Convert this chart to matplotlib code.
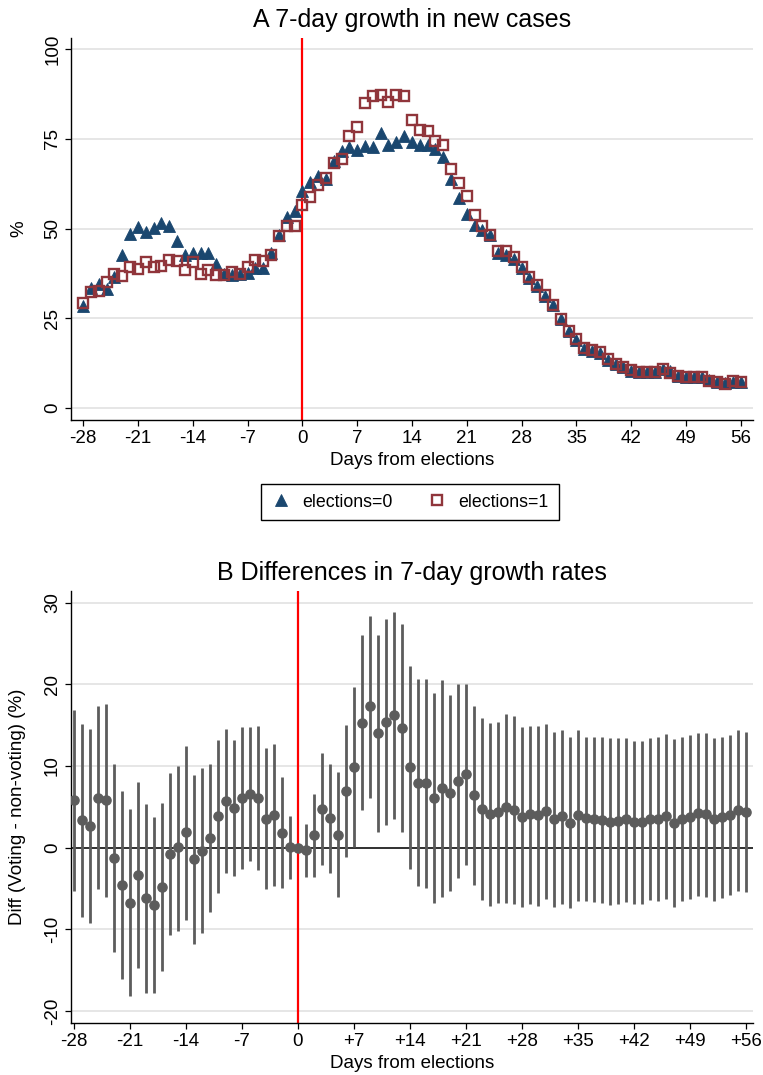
import matplotlib
matplotlib.use("Agg")
import matplotlib.pyplot as plt
from matplotlib import font_manager

# ---------- data ----------

DAYS = list(range(-28, 57))

# A: 7-day growth in new cases (%)
GROWTH_E0 = [
    28.4, 33.6, 34.7, 33.3, 36.6, 42.6, 48.4, 50.4, 49.0, 50.3, 51.5, 50.8,
    46.6, 42.7, 43.2, 43.2, 43.2, 40.1, 37.5, 37.0, 37.3, 37.6, 39.0, 39.0,
    43.2, 48.2, 53.1, 54.9, 60.6, 63.0, 64.6, 63.9, 68.9, 71.7, 72.7, 71.9,
    72.9, 72.8, 76.5, 73.3, 74.1, 75.7, 74.1, 73.4, 73.2, 72.2, 69.9, 63.9,
    58.4, 54.0, 51.0, 49.6, 48.2, 43.3, 42.7, 41.4, 39.0, 36.3, 34.0, 31.2,
    28.6, 24.8, 21.5, 19.1, 16.6, 16.0, 15.4, 13.5, 12.2, 11.5, 10.4, 10.1,
    10.1, 10.1, 10.8, 10.3, 9.0, 8.8, 8.7, 8.6, 7.8, 7.2, 7.0, 7.4, 7.2,
]
GROWTH_E1 = [
    29.4, 32.3, 32.7, 35.0, 37.3, 36.8, 39.2, 38.8, 40.7, 39.3, 39.6, 41.2,
    41.0, 38.5, 40.6, 37.3, 38.5, 37.1, 37.1, 38.0, 37.3, 39.2, 41.2, 40.9,
    42.7, 48.0, 50.8, 50.8, 56.7, 58.8, 62.2, 64.2, 68.3, 69.4, 75.7, 78.2,
    84.9, 86.8, 87.2, 85.3, 87.2, 86.9, 80.3, 77.6, 77.1, 74.5, 73.3, 66.6,
    62.7, 59.1, 53.9, 50.8, 48.2, 43.7, 43.7, 42.1, 39.2, 36.5, 34.2, 31.4,
    28.8, 24.9, 21.5, 19.2, 16.7, 16.1, 15.5, 13.6, 12.3, 11.6, 10.5, 10.1,
    10.1, 10.1, 11.0, 9.8, 9.0, 8.8, 8.8, 8.7, 7.7, 7.2, 6.8, 7.5, 7.3,
]

# B: difference (voting - non-voting) with confidence bounds
DIFF = [
    5.84, 3.35, 2.65, 6.12, 5.80, -1.31, -4.61, -6.73, -3.35, -6.2, -7.02, -4.78,
    -0.82, 0.04, 1.88, -1.39, -0.41, 1.22, 3.88, 5.76, 4.86, 6.12, 6.61, 6.04,
    3.51, 4.0, 1.8, 0.08, 0.0, -0.29, 1.51, 4.69, 3.63, 1.59, 6.94, 9.88,
    15.3, 17.3, 14.0, 15.35, 16.2, 14.7, 9.88, 7.96, 7.92, 6.12, 7.27, 6.73,
    8.16, 8.98, 6.45, 4.73, 4.15, 4.35, 4.95, 4.61, 3.73, 4.12, 3.94, 4.49,
    3.51, 3.84, 3.06, 4.0, 3.59, 3.47, 3.39, 3.18, 3.27, 3.47, 3.14, 3.14,
    3.51, 3.51, 3.88, 3.02, 3.55, 3.80, 4.2, 4.08, 3.47, 3.80, 4.0, 4.61, 4.41,
]
DIFF_HI = [
    16.9, 15.1, 14.5, 17.4, 17.6, 10.2, 6.9, 4.69, 8.0, 5.39, 3.76, 5.51,
    9.1, 10.0, 12.5, 8.94, 9.76, 10.3, 13.2, 14.5, 13.2, 14.8, 14.8, 14.9,
    12.2, 12.7, 8.6, 3.9, 0.0, 2.94, 6.57, 11.55, 10.3, 9.22, 15.0, 19.7,
    26.0, 28.4, 26.1, 28.0, 28.9, 27.4, 22.3, 20.6, 20.65, 19.0, 20.5, 18.65,
    20.0, 20.0, 17.4, 15.9, 15.3, 15.4, 16.4, 16.1, 14.8, 14.9, 14.9, 15.1,
    14.2, 14.4, 13.5, 14.4, 13.5, 13.5, 13.6, 13.4, 13.4, 13.4, 13.1, 13.1,
    13.4, 13.5, 13.9, 13.3, 13.6, 13.8, 14.1, 14.0, 13.4, 13.55, 13.8, 14.4, 14.2,
]
DIFF_LO = [
    -5.27, -8.45, -9.27, -5.10, -6.0, -12.8, -16.1, -18.2, -14.7, -17.8, -17.8, -15.1,
    -10.7, -10.2, -8.86, -11.8, -10.5, -7.9, -5.5, -3.14, -3.47, -2.57, -1.63, -2.78,
    -5.1, -4.65, -5.0, -3.84, 0.0, -3.55, -3.55, -2.12, -3.06, -6.03, -1.1, 0.04,
    4.61, 6.04, 1.92, 2.73, 3.51, 1.88, -2.65, -4.65, -4.9, -6.77, -6.03, -5.3,
    -3.75, -2.16, -4.57, -6.4, -7.14, -6.77, -6.8, -6.93, -7.26, -6.85, -7.1, -6.24,
    -7.26, -6.93, -7.42, -6.56, -6.48, -6.65, -6.8, -7.05, -6.89, -6.65, -6.85, -6.93,
    -6.44, -6.56, -6.28, -7.3, -6.52, -6.28, -5.87, -6.03, -6.48, -6.12, -5.83, -5.3, -5.42,
]

XTICKS = list(range(-28, 57, 7))
XLABELS_A = ["-28", "-21", "-14", "-7", "0", "7", "14", "21", "28", "35", "42", "49", "56"]
XLABELS_B = ["-28", "-21", "-14", "-7", "0", "+7", "+14", "+21", "+28", "+35", "+42", "+49", "+56"]
YTICKS_A = [0, 25, 50, 75, 100]
YTICKS_B = [-20, -10, 0, 10, 20, 30]

# ---------- style ----------

names = {f.name for f in font_manager.fontManager.ttflist}
NARROW = "Liberation Sans Narrow" if "Liberation Sans Narrow" in names else "Liberation Sans"
plt.rcParams["font.family"] = [NARROW, "DejaVu Sans"]
plt.rcParams["axes.unicode_minus"] = False

NAVY = "#1a476f"
MAROON = "#90353b"
GREY = "#5c5c5c"
GRID = "#e6e6e6"
TICK_FS = 13.5


def style_axes(ax, yticks, xlabels):
    for side in ("top", "right"):
        ax.spines[side].set_visible(False)
    for side in ("left", "bottom"):
        ax.spines[side].set_linewidth(1.0)
    ax.set_xticks(XTICKS)
    ax.set_xticklabels(xlabels)
    ax.set_yticks(yticks)
    ax.set_yticklabels([str(t) for t in yticks], rotation=90, va="center")
    ax.tick_params(direction="out", length=4, width=0.9, labelsize=TICK_FS, pad=3)
    ax.yaxis.grid(True, color=GRID, linewidth=1.4)
    ax.set_axisbelow(True)
    ax.set_xlabel("Days from elections", fontsize=TICK_FS, labelpad=4)


fig = plt.figure(figsize=(7.63, 10.75), dpi=100)

# ---------- panel A ----------
ax_a = fig.add_axes([0.0931, 0.6093, 0.8938, 0.3554])
ax_a.axvline(0, color="red", linewidth=1.6, zorder=2)
h0, = ax_a.plot(DAYS, GROWTH_E0, "^", linestyle="none", color=NAVY,
                markersize=8, markeredgewidth=0.6, zorder=3, label="elections=0")
h1, = ax_a.plot(DAYS, GROWTH_E1, "s", linestyle="none", markerfacecolor="none",
                markeredgecolor=MAROON, markersize=6.8, markeredgewidth=1.7,
                zorder=4, label="elections=1")
ax_a.set_xlim(-29.55, 57.56)
ax_a.set_ylim(-3.3, 103.1)
style_axes(ax_a, YTICKS_A, XLABELS_A)
ax_a.set_ylabel("%", fontsize=TICK_FS, labelpad=12)
ax_a.set_title("A 7-day growth in new cases", fontsize=18, pad=8)

leg = fig.legend(handles=[h0, h1], labels=["elections=0", "elections=1"],
                 loc="center", bbox_to_anchor=(0.537, 0.533), ncol=2,
                 frameon=True, fancybox=False, edgecolor="black", framealpha=1,
                 prop={"family": ["Liberation Sans", "DejaVu Sans"], "size": 12.8},
                 handletextpad=0.6, columnspacing=1.9, borderpad=0.55,
                 handlelength=1.2)
leg.get_frame().set_linewidth(1.0)

# ---------- panel B ----------
ax_b = fig.add_axes([0.0927, 0.0484, 0.894, 0.4021])
ax_b.axhline(0, color="#222222", linewidth=1.3, zorder=1)
ax_b.axvline(0, color="red", linewidth=1.6, zorder=2)
ax_b.vlines(DAYS, DIFF_LO, DIFF_HI, color=GREY, linewidth=2.0, zorder=3)
ax_b.plot(DAYS, DIFF, "o", linestyle="none", color=GREY, markersize=6.6, zorder=4)
ax_b.set_xlim(-28.4, 56.9)
ax_b.set_ylim(-21.47, 31.47)
style_axes(ax_b, YTICKS_B, XLABELS_B)
ax_b.set_ylabel("Diff (Voting - non-voting) (%)", fontsize=TICK_FS, labelpad=13)
ax_b.set_title("B Differences in 7-day growth rates", fontsize=18, pad=8)

fig.savefig("out.png", dpi=100)
